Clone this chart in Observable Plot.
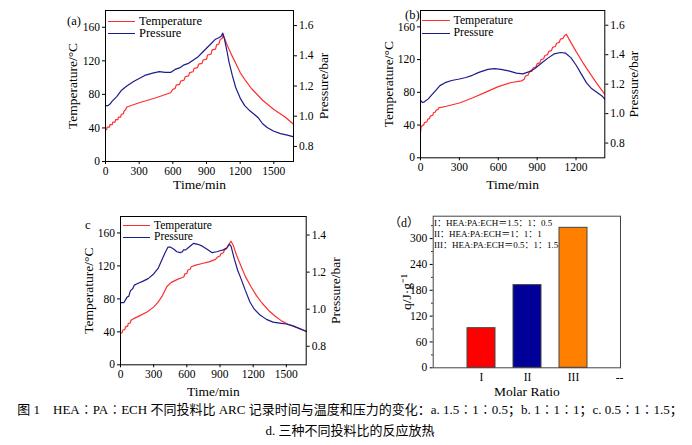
<!DOCTYPE html>
<html><head><meta charset="utf-8">
<script src="https://cdn.jsdelivr.net/npm/d3@7"></script>
<script src="https://cdn.jsdelivr.net/npm/@observablehq/plot@0.6"></script>
<style>
html,body{margin:0;padding:0;background:#fff;}
#wrap{position:relative;width:692px;height:445px;overflow:hidden;font-family:"Liberation Serif",serif;color:#000;}
.panel{position:absolute;}
.lbl{position:absolute;font-size:12.5px;line-height:1;white-space:nowrap;}
.leg{position:absolute;font-size:12.5px;line-height:1;white-space:nowrap;}
.leg .row{position:absolute;left:0;display:flex;align-items:center;height:10px;}
.leg .sw{display:inline-block;height:0;border-top:1.3px solid;margin-right:4px;}
.cap{position:absolute;left:4px;width:692px;text-align:center;font-size:13px;line-height:1;white-space:nowrap;font-family:"Liberation Serif","Noto Sans CJK SC",serif;}
.dleg{position:absolute;font-size:9px;line-height:1;white-space:nowrap;font-family:"Liberation Serif","Noto Sans CJK SC",serif;}
</style></head>
<body><div id="wrap"></div>
<script>
// ---------- data (time/min, value) ----------
const tempA = [[0,38],[10,38],[15,41],[35,41],[40,44],[60,44],[65,47],[85,47],[90,50],[110,50],[115,53],[135,53],[140,56],[160,57],[165,60],[180,62],[190,65],[300,70],[450,76],[580,82],[600,86],[620,87],[630,91],[660,92],[670,96],[700,97],[710,101],[740,102],[750,106],[780,107],[790,111],[820,112],[830,116],[860,117],[870,121],[900,122],[910,127],[940,128],[950,133],[980,134],[990,139],[1010,140],[1020,145],[1040,147],[1048,151],[1080,140],[1120,128],[1160,117],[1200,106],[1250,96],[1300,87],[1400,73],[1500,62],[1600,53],[1670,45]];
const presA = [[0,1.07],[20,1.07],[40,1.08],[60,1.10],[100,1.13],[140,1.17],[190,1.20],[250,1.23],[300,1.25],[350,1.27],[420,1.285],[480,1.295],[530,1.29],[580,1.29],[600,1.30],[620,1.31],[660,1.32],[700,1.34],[740,1.35],[780,1.37],[820,1.39],[860,1.42],[900,1.45],[940,1.48],[980,1.51],[1010,1.52],[1030,1.53],[1045,1.55],[1060,1.51],[1080,1.44],[1100,1.36],[1130,1.27],[1160,1.19],[1200,1.12],[1240,1.07],[1280,1.04],[1330,1.01],[1360,0.99],[1400,0.95],[1440,0.925],[1500,0.90],[1560,0.885],[1620,0.875],[1670,0.865]];
const tempB = [[0,31],[5,38],[20,40],[25,40],[30,43],[50,44],[55,47],[70,48],[75,51],[95,52],[100,55],[115,56],[120,58],[135,59],[140,61],[200,63],[300,67],[400,73],[500,80],[600,87],[700,92],[780,94],[800,96],[810,100],[830,101],[840,105],[860,106],[870,110],[890,111],[900,115],[920,116],[930,120],[950,121],[960,125],[980,126],[990,130],[1010,131],[1020,135],[1040,136],[1050,140],[1070,141],[1080,145],[1100,146],[1110,149],[1125,151],[1160,141],[1200,130],[1250,117],[1300,105],[1360,91],[1420,78]];
const presB = [[0,1.09],[15,1.075],[30,1.08],[60,1.10],[90,1.13],[120,1.16],[150,1.19],[190,1.21],[240,1.225],[300,1.235],[350,1.245],[400,1.26],[450,1.28],[520,1.30],[570,1.305],[620,1.30],[680,1.29],[740,1.275],[790,1.27],[840,1.285],[880,1.305],[930,1.34],[980,1.375],[1030,1.405],[1080,1.415],[1120,1.41],[1160,1.38],[1200,1.33],[1240,1.27],[1280,1.21],[1320,1.17],[1360,1.145],[1400,1.12],[1420,1.10]];
const tempC = [[0,38],[15,39],[20,42],[40,43],[45,46],[65,47],[70,50],[90,51],[95,54],[120,56],[180,60],[240,64],[300,70],[340,76],[380,84],[420,95],[460,100],[520,104],[560,106],[575,107],[580,110],[600,111],[610,115],[630,116],[640,119],[680,121],[740,123],[800,125],[860,128],[880,131],[900,132],[910,135],[930,136],[940,139],[960,141],[970,144],[990,148],[1000,150],[1020,145],[1050,133],[1090,120],[1130,107],[1180,95],[1230,84],[1280,75],[1340,66],[1400,59],[1460,53],[1520,49],[1600,45],[1680,41]];
const presC = [[0,1.035],[30,1.035],[45,1.05],[60,1.065],[75,1.07],[90,1.10],[110,1.11],[125,1.13],[160,1.14],[200,1.15],[250,1.165],[300,1.19],[340,1.22],[370,1.26],[400,1.30],[430,1.335],[450,1.335],[480,1.325],[510,1.31],[540,1.305],[560,1.31],[570,1.32],[590,1.32],[610,1.33],[640,1.345],[660,1.355],[700,1.35],[740,1.34],[780,1.325],[830,1.305],[870,1.31],[900,1.315],[930,1.32],[960,1.33],[985,1.35],[1000,1.34],[1030,1.27],[1060,1.21],[1090,1.165],[1130,1.10],[1170,1.04],[1210,1.00],[1260,0.97],[1320,0.945],[1380,0.93],[1440,0.925],[1500,0.92],[1560,0.91],[1620,0.895],[1680,0.88]];

const barCats = ["I","II","III"];
const barVals = [92, 192, 325];
const barColors = ["#ff0000","#000099","#ff8000"];
const xTickLabelsD = ["I","II","III","--"];
const qTicks = [0,60,120,180,240,300];
const qMinor = [30,90,150,210,270,330];

const tempTicks = [0,40,80,120,160];
const presTicksAB = [0.8,1.0,1.2,1.4,1.6];
const presTicksC = [0.8,1.0,1.2,1.4];
const timeTicksAC = [0,300,600,900,1200,1500];
const timeTicksB = [0,300,600,900,1200];

const legendNames = ["Temperature","Pressure"];
const dLegend = ["I：HEA:PA:ECH＝1.5：1：0.5","II：HEA:PA:ECH＝1：1：1","III：HEA:PA:ECH＝0.5：1：1.5"];
const caption1 = "图 1　HEA∶PA∶ECH 不同投料比 ARC 记录时间与温度和压力的变化：a. 1.5∶1∶0.5；b. 1∶1∶1；c. 0.5∶1∶1.5；";
const caption2 = "d. 三种不同投料比的反应放热";

const RED = "#ff2e2e", BLUE = "#1c1c8c";
const TICK_FS = 11.5, LABEL_FS = 13.5;
const wrap = document.getElementById("wrap");

function place(el, left, top) {
  el.classList.add("panel");
  el.style.left = left + "px"; el.style.top = top + "px";
  wrap.appendChild(el);
}

function dualPanel(c) {
  const pScale = d3.scaleLinear(c.pDomain, [0, 180]);
  const tk = {tickSize: 3, tickPadding: 2.5, fontSize: TICK_FS, label: null};
  const lb = {ticks: [], tickSize: 0, labelAnchor: "center", labelArrow: "none", fontSize: LABEL_FS};
  const svg = Plot.plot({
    width: c.width, height: c.height,
    marginLeft: c.ml, marginRight: c.mr, marginTop: c.mt, marginBottom: c.mb,
    style: {fontFamily: "Liberation Serif, serif", fontSize: TICK_FS + "px", color: "black", background: "transparent", overflow: "visible"},
    x: {domain: [0, c.xMax]},
    y: {domain: [0, 180]},
    marks: [
      Plot.line(c.temp, {x: d => d[0], y: d => d[1], stroke: RED, strokeWidth: 1.2}),
      Plot.line(c.pres, {x: d => d[0], y: d => pScale(d[1]), stroke: BLUE, strokeWidth: 1.2}),
      Plot.axisX(c.xTicks, {...tk, tickFormat: d => String(d)}),
      Plot.axisY(tempTicks, {...tk, anchor: "left", tickFormat: d => String(d)}),
      Plot.axisY(c.pTicks.map(pScale), {...tk, anchor: "right", tickFormat: v => pScale.invert(v).toFixed(1)}),
      Plot.axisX({...lb, label: "Time/min", labelOffset: c.xlo}),
      Plot.axisY({...lb, anchor: "left", label: "Temperature/°C", labelOffset: c.ylo}),
      Plot.axisY({...lb, anchor: "right", label: "Pressure/bar", labelOffset: c.rlo}),
      Plot.frame({stroke: "black", strokeWidth: 1})
    ]
  });
  place(svg, c.left, c.top);
  // legend
  const leg = document.createElement("div");
  leg.className = "leg";
  leg.style.left = c.legX + "px"; leg.style.top = c.legY + "px";
  leg.style.fontSize = c.legFs + "px";
  legendNames.forEach((n, i) => {
    const row = document.createElement("div");
    row.className = "row";
    row.style.top = (i * c.legH) + "px";
    const sw = document.createElement("span");
    sw.className = "sw"; sw.style.width = c.swW + "px"; sw.style.borderColor = i === 0 ? RED : BLUE;
    row.appendChild(sw);
    row.appendChild(document.createTextNode(n));
    leg.appendChild(row);
  });
  wrap.appendChild(leg);
  const lab = document.createElement("div");
  lab.className = "lbl"; lab.textContent = c.tag;
  lab.style.left = c.tagX + "px"; lab.style.top = c.tagY + "px";
  wrap.appendChild(lab);
}

dualPanel({temp: tempA, pres: presA, xMax: 1675, xTicks: timeTicksAC, pDomain: [0.7, 1.7], pTicks: presTicksAB,
  left: 60, top: 0, width: 290, height: 200, ml: 45, mr: 57, mt: 10, mb: 39, xlo: 27, ylo: 38, rlo: 34,
  legX: 108, legY: 16, legH: 12.6, legFs: 12.5, swW: 27, tag: "(a)", tagX: 67, tagY: 15});
dualPanel({temp: tempB, pres: presB, xMax: 1422, xTicks: timeTicksB, pDomain: [0.7, 1.7], pTicks: presTicksAB,
  left: 370, top: 0, width: 300, height: 200, ml: 50, mr: 65.7, mt: 10, mb: 42.7, xlo: 31, ylo: 37, rlo: 33,
  legX: 421.5, legY: 15.5, legH: 12.7, legFs: 11.8, swW: 28, tag: "(b)", tagX: 405, tagY: 9});
dualPanel({temp: tempC, pres: presC, xMax: 1680, xTicks: timeTicksAC, pDomain: [0.7, 1.5], pTicks: presTicksC,
  left: 60, top: 205, width: 290, height: 195, ml: 60, mr: 44.3, mt: 11, mb: 35.7, xlo: 31, ylo: 37, rlo: 34,
  legX: 122.5, legY: 220.5, legH: 11.5, legFs: 11.5, swW: 27.5, tag: "c", tagX: 85, tagY: 219});

// ---------- panel d ----------
const bars = barCats.map((c, i) => ({cat: c, q: barVals[i], color: barColors[i]}));
const svgD = Plot.plot({
  width: 320, height: 195,
  marginLeft: 62.7, marginRight: 70, marginTop: 10.7, marginBottom: 32.7,
  style: {fontFamily: "Liberation Serif, serif", fontSize: TICK_FS + "px", color: "black", background: "transparent", overflow: "visible"},
  x: {type: "band", domain: xTickLabelsD, range: [85.95, 272.75], paddingInner: 0.4, paddingOuter: 0.2},
  y: {domain: [0, 352]},
  marks: [
    Plot.barY(bars, {x: "cat", y: "q", fill: "color", stroke: "#444", strokeWidth: 1}),
    Plot.axisX({tickSize: 0, tickPadding: 5, fontSize: TICK_FS, label: null}),
    Plot.axisY(qTicks, {tickSize: 3, tickPadding: 3, fontSize: TICK_FS, tickFormat: d => String(d), label: null}),
    Plot.axisY(qMinor, {tickSize: 1.5, tickFormat: () => "", label: null}),
    Plot.axisX({ticks: [], tickSize: 0, label: "Molar Ratio", labelAnchor: "center", labelArrow: "none", labelOffset: 28, fontSize: LABEL_FS}),
    Plot.axisY({ticks: [], tickSize: 0, label: "q/J·g⁻¹", labelAnchor: "center", labelArrow: "none", labelOffset: 32, fontSize: LABEL_FS}),
    Plot.frame({stroke: "#444", strokeWidth: 1})
  ]
});
place(svgD, 370, 205);
const dl = document.createElement("div");
dl.className = "dleg"; dl.style.left = "434px"; dl.style.top = "219px";
dLegend.forEach((t, i) => {
  const r = document.createElement("div");
  r.style.position = "absolute"; r.style.left = "0px"; r.style.top = (i * 11) + "px";
  r.textContent = t; dl.appendChild(r);
});
wrap.appendChild(dl);
const dTag = document.createElement("div");
dTag.className = "lbl"; dTag.textContent = "（d）";
dTag.style.left = "389px"; dTag.style.top = "217px"; dTag.style.fontSize = "12px"; dTag.style.fontFamily = "'Liberation Serif','Noto Sans CJK SC',serif";
wrap.appendChild(dTag);

// ---------- caption ----------
[caption1, caption2].forEach((t, i) => {
  const d = document.createElement("div");
  d.className = "cap"; d.textContent = t;
  d.style.top = (i === 0 ? 403 : 424) + "px";
  wrap.appendChild(d);
});
</script>
</body></html>
